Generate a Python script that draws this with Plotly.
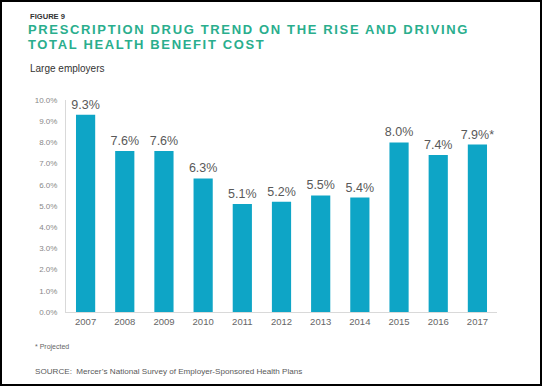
import plotly.graph_objects as go

years = ["2007", "2008", "2009", "2010", "2011", "2012", "2013", "2014", "2015", "2016", "2017"]
trend = [9.3, 7.6, 7.6, 6.3, 5.1, 5.2, 5.5, 5.4, 8.0, 7.4, 7.9]
projected = [False] * 10 + [True]
y_ticks = [0, 1, 2, 3, 4, 5, 6, 7, 8, 9, 10]

W, H = 542, 388
L, R, T, B = 66, 45, 100, 76
PW, PH = W - L - R, H - T - B


def px(x):
    return (x - L) / PW


def py(y):
    return (H - B - y) / PH


labels = [f"{v:.1f}%" + ("*" if p else "") for v, p in zip(trend, projected)]

FONT = "Liberation Sans, Arial, sans-serif"
title_color = "#2aae8d"

fig = go.Figure(
    go.Bar(
        x=years,
        y=trend,
        marker=dict(color="#0ea5c6", line=dict(width=0)),
        text=labels,
        textposition="outside",
        textangle=0,
        constraintext="none",
        textfont=dict(family=FONT, size=12.5, color="#595959"),
        cliponaxis=False,
        hoverinfo="skip",
    )
)

annotations = [
    dict(text="<b>FIGURE 9</b>", x=px(28), y=py(16), font=dict(size=7.6, color="#333333", family=FONT)),
    dict(text="<b>PRESCRIPTION DRUG TREND ON THE RISE AND DRIVING</b>", x=px(28), y=py(30),
         font=dict(size=13, color=title_color, family=FONT)),
    dict(text="<b>TOTAL HEALTH BENEFIT COST</b>", x=px(28), y=py(45),
         font=dict(size=13, color=title_color, family=FONT)),
    dict(text="Large employers", x=px(28), y=py(68), font=dict(size=10, color="#333333", family=FONT)),
    dict(text="* Projected", x=px(33), y=py(347), font=dict(size=7, color="#666666", family=FONT)),
    dict(text="SOURCE:  Mercer\u2019s National Survey of Employer-Sponsored Health Plans", x=px(33), y=py(371),
         font=dict(size=8.1, color="#595959", family=FONT)),
]
for a in annotations:
    a.update(xref="paper", yref="paper", xanchor="left", yanchor="middle", showarrow=False)

fig.update_layout(
    width=W,
    height=H,
    margin=dict(l=L, r=R, t=T, b=B, pad=0),
    paper_bgcolor="white",
    plot_bgcolor="white",
    bargap=0.51,
    showlegend=False,
    font=dict(family=FONT),
    annotations=annotations,
    shapes=[
        dict(type="rect", xref="paper", yref="paper", x0=px(1), x1=px(541), y0=py(385), y1=py(1),
             line=dict(color="black", width=2), fillcolor="rgba(0,0,0,0)", layer="above"),
    ],
    xaxis=dict(
        showline=True, linecolor="#d9d9d9", linewidth=1, showgrid=False, zeroline=False,
        ticks="", tickfont=dict(size=9.5, color="#666666", family=FONT), ticklabelstandoff=1,
    ),
    yaxis=dict(
        range=[0, 10], tickvals=y_ticks, ticktext=[f"{t:.1f}%" for t in y_ticks],
        showline=True, linecolor="#d9d9d9", linewidth=1, showgrid=False, zeroline=False,
        ticks="", tickfont=dict(size=8, color="#888888", family=FONT), ticklabelstandoff=6,
    ),
)

post = """
document.body.style.margin = '0';
document.body.style.overflow = 'hidden';
function spaceTitles() {
  document.querySelectorAll('.annotation-text').forEach(function (t) {
    var s = t.textContent || '';
    if (s.indexOf('PRESCRIPTION') === 0 || s.indexOf('TOTAL HEALTH') === 0) {
      t.style.letterSpacing = '1.65px';
      var r = t.getBoundingClientRect();
      var dx = 28 - r.left;
      var x0 = parseFloat(t.getAttribute('x') || '0');
      t.setAttribute('x', x0 + dx);
    }
  });
}
spaceTitles();
setTimeout(spaceTitles, 0);
var gd = document.getElementById('{plot_id}');
if (gd && gd.on) { gd.on('plotly_afterplot', spaceTitles); }
"""

fig.write_html("out.html", post_script=post, config={"displayModeBar": False, "staticPlot": True})
